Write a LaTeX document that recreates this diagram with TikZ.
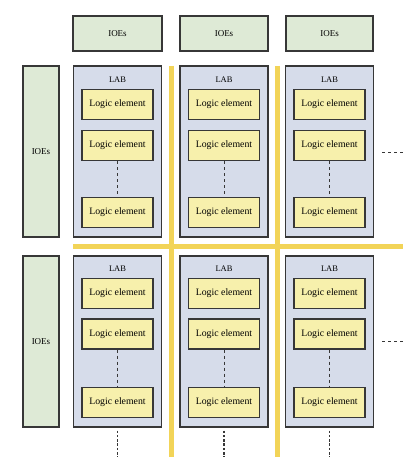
\documentclass[tikz,border=0pt]{standalone}
\usepackage{fontspec}
\setmainfont{Liberation Serif}
\usepackage{xcolor}
\usetikzlibrary{positioning}

\definecolor{ioegreen}{RGB}{222,234,214}
\definecolor{labblue}{RGB}{214,220,234}
\definecolor{leyellow}{RGB}{247,240,172}
\definecolor{wire}{RGB}{242,212,88}
\definecolor{edge}{RGB}{55,55,55}

\begin{document}
\begin{tikzpicture}[x=1pt, y=-1pt,
    ioe/.style = {draw=edge, line width=1.1pt, fill=ioegreen, inner sep=0pt, font=\fontsize{9}{10}\selectfont},
    lab/.style = {draw=edge, line width=1.1pt, fill=labblue, minimum width=88pt, minimum height=171pt, inner sep=0pt},
    labname/.style = {font=\fontsize{8.5}{10}\selectfont, inner sep=0pt},
    le/.style = {draw=edge, line width=1.1pt, fill=leyellow, minimum width=71pt, minimum height=30pt, inner sep=0pt, font=\fontsize{9.8}{10}\selectfont},
    route/.style = {wire, line width=5pt},
    more/.style = {draw=edge, dashed, line width=0.7pt},
    moredots/.style = {draw=edge, line width=1.8pt, dash pattern=on 2.5pt off 1.8pt}]
    \useasboundingbox (0,0) rectangle (403,457);

    % routing channels
    \coordinate (v1t) at (171,66);  \coordinate (v1b) at (171,457);
    \coordinate (v2t) at (277,66);  \coordinate (v2b) at (277,457);
    \coordinate (hl)  at (73,246);  \coordinate (hr)  at (403,246);
    \draw[route] (v1t) -- (v1b);
    \draw[route] (v2t) -- (v2b);
    \draw[route] (hl) -- (hr);

    % IOEs
    \node[ioe, minimum width=89pt, minimum height=35pt] (io1) at (117.5,33.5) {IOEs};
    \node[ioe, minimum width=88pt, minimum height=35pt] (io2) at (224,33.5)   {IOEs};
    \node[ioe, minimum width=87pt, minimum height=35pt] (io3) at (329.5,33.5) {IOEs};
    \node[ioe, minimum width=36pt, minimum height=171pt] (io4) at (41,151.5)  {IOEs};
    \node[ioe, minimum width=36pt, minimum height=171pt] (io5) at (41,341.5)  {IOEs};

    % LABs
    \node[lab] (lab1) at (117.5,151.5) {};
    \node[lab] (lab2) at (224,151.5)   {};
    \node[lab] (lab3) at (329.5,151.5) {};
    \node[lab] (lab4) at (117.5,341.5) {};
    \node[lab] (lab5) at (224,341.5)   {};
    \node[lab] (lab6) at (329.5,341.5) {};

    \node[labname] (n1) at ([yshift=-14pt]lab1.north) {LAB};
    \node[labname] (n2) at ([yshift=-14pt]lab2.north) {LAB};
    \node[labname] (n3) at ([yshift=-14pt]lab3.north) {LAB};
    \node[labname] (n4) at ([yshift=-13pt]lab4.north) {LAB};
    \node[labname] (n5) at ([yshift=-13pt]lab5.north) {LAB};
    \node[labname] (n6) at ([yshift=-13pt]lab6.north) {LAB};

    % logic elements
    \node[le] (e1a) at ([yshift=-39pt]lab1.north)  {Logic element};
    \node[le] (e1b) at ([yshift=-80pt]lab1.north)  {Logic element};
    \node[le] (e1c) at ([yshift=-147pt]lab1.north) {Logic element};
    \node[le] (e2a) at ([yshift=-39pt]lab2.north)  {Logic element};
    \node[le] (e2b) at ([yshift=-80pt]lab2.north)  {Logic element};
    \node[le] (e2c) at ([yshift=-147pt]lab2.north) {Logic element};
    \node[le] (e3a) at ([yshift=-39pt]lab3.north)  {Logic element};
    \node[le] (e3b) at ([yshift=-80pt]lab3.north)  {Logic element};
    \node[le] (e3c) at ([yshift=-147pt]lab3.north) {Logic element};
    \node[le] (e4a) at ([yshift=-38pt]lab4.north)  {Logic element};
    \node[le] (e4b) at ([yshift=-78.5pt]lab4.north) {Logic element};
    \node[le] (e4c) at ([yshift=-147pt]lab4.north) {Logic element};
    \node[le] (e5a) at ([yshift=-38pt]lab5.north)  {Logic element};
    \node[le] (e5b) at ([yshift=-78.5pt]lab5.north) {Logic element};
    \node[le] (e5c) at ([yshift=-147pt]lab5.north) {Logic element};
    \node[le] (e6a) at ([yshift=-38pt]lab6.north)  {Logic element};
    \node[le] (e6b) at ([yshift=-78.5pt]lab6.north) {Logic element};
    \node[le] (e6c) at ([yshift=-147pt]lab6.north) {Logic element};

    % more elements in each LAB
    \draw[more] (e1b) -- (e1c);
    \draw[more] (e2b) -- (e2c);
    \draw[more] (e3b) -- (e3c);
    \draw[more] (e4b) -- (e4c);
    \draw[more] (e5b) -- (e5c);
    \draw[more] (e6b) -- (e6c);

    % the array goes on
    \coordinate (r3) at (403,152);
    \coordinate (r6) at (403,341);
    \draw[more] ([xshift=8pt]lab3.east |- r3) -- (r3);
    \draw[more] ([xshift=8pt]lab6.east |- r6) -- (r6);
    \coordinate (d4) at (117.5,457);
    \coordinate (d5) at (224,457);
    \coordinate (d6) at (329.5,457);
    \draw[moredots] ([yshift=-3pt]lab4.south) -- (d4);
    \draw[moredots] ([yshift=-3pt]lab5.south) -- (d5);
    \draw[moredots] ([yshift=-3pt]lab6.south) -- (d6);
\end{tikzpicture}
\end{document}
